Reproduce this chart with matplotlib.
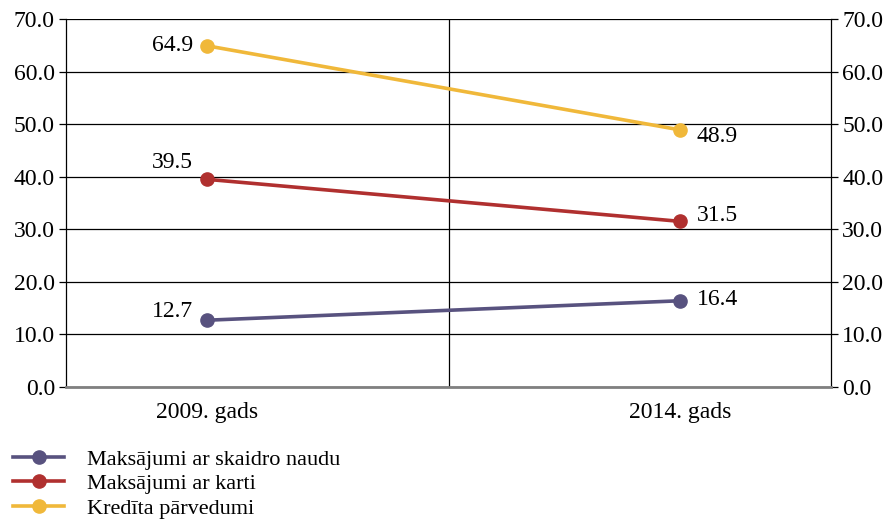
import matplotlib as mpl
mpl.use('Agg')

import matplotlib.pyplot as plt
import numpy as np

plt.rcParams['font.family'] = ['Liberation Serif', 'DejaVu Serif']

years = ['2009. gads', '2014. gads']
series_names = ['Maksājumi ar skaidro naudu', 'Maksājumi ar karti', 'Kredīta pārvedumi']
cash = [12.7, 16.4]
card = [39.5, 31.5]
credit = [64.9, 48.9]
colors = ['#58527f', '#b0302f', '#f0b83a']

# label offsets in points (left point, right point)
offsets = [[(-10, 6), (12, 1)],
           [(-10, 12), (12, 4)],
           [(-10, 0), (12, -5)]]

fig = plt.figure(figsize=(8.86, 5.2), dpi=100)
ax = fig.add_axes([0.0745, 0.2558, 0.8635, 0.7077])

x = np.arange(len(years))
for vals, name, col, offs in zip([cash, card, credit], series_names, colors, offsets):
    ax.plot(x, vals, color=col, linewidth=2.6, marker='o', markersize=9.5,
            label=name, zorder=3)
    for i, v in enumerate(vals):
        ha = 'right' if i == 0 else 'left'
        ax.annotate(f'{v:.1f}', (x[i], v), xytext=offs[i], textcoords='offset points',
                    ha=ha, va='center', fontsize=17)

ax.set_xlim(-0.298, 1.319)
ax.set_ylim(0, 70)
ax.axvline(np.mean(ax.get_xlim()), color='black', linewidth=0.9, zorder=1)
ax.set_yticks(np.arange(0, 71, 10))
ax.set_yticklabels([f'{t:.1f}' for t in np.arange(0, 71, 10)])
ax.set_xticks(x)
ax.set_xticklabels(years)
ax.yaxis.grid(True, color='black', linewidth=0.9)
ax.set_axisbelow(True)

ax.spines['top'].set_visible(False)
ax.spines['bottom'].set_color('#808080')
ax.spines['bottom'].set_linewidth(2)
ax.spines['left'].set_linewidth(0.9)
ax.spines['right'].set_linewidth(0.9)

ax.tick_params(axis='y', which='both', direction='out', length=5, width=0.9,
               labelsize=17, right=True, labelright=True, pad=3)
ax.tick_params(axis='x', length=0, labelsize=17, pad=11)

fig.legend(loc='upper left', bbox_to_anchor=(0.01, 0.145), frameon=False,
           fontsize=16, handlelength=2.3, handletextpad=1.0, labelspacing=0.18,
           borderaxespad=0, borderpad=0.2)

fig.savefig('out.png', dpi=100)
